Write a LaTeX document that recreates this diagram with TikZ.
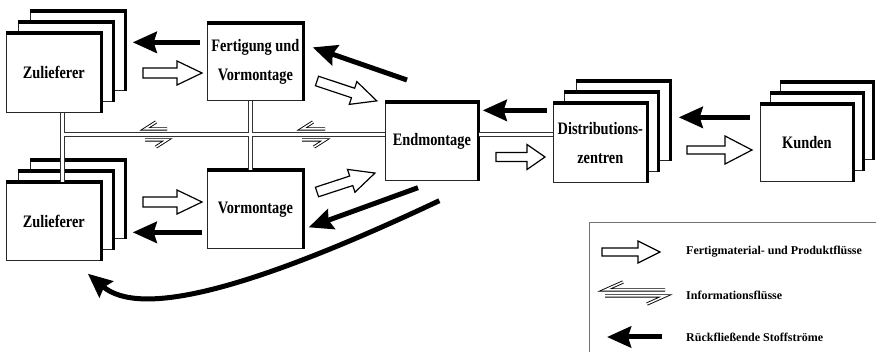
\documentclass[tikz,border=0pt]{standalone}
\usepackage{fontspec}
\usetikzlibrary{arrows.meta,calc}
\newfontfamily\lblfont{Liberation Serif}[FakeStretch=0.82]
\newfontfamily\legfont{Liberation Serif}
\newcommand\drawblk[5][]{%
  \node[box,anchor=north west,#1] (#2) at (#3,#4) {#5};
  \draw[heavy] (#2.north west) -- (#2.north east) -- (#2.south east);}
\tikzset{
  box/.style={draw=black!85, line width=0.7pt, fill=white, minimum width=95pt,
    minimum height=79pt, inner sep=0pt, align=center,
    font=\lblfont\bfseries\fontsize{17.5}{29}\selectfont},
  heavy/.style={line width=3.2pt, line join=miter, line cap=butt},
  back/.style={line width=5pt, line cap=butt, -{Stealth[length=24pt,width=21pt,inset=3pt]}},
  hollowline/.style={draw=black, line width=1.2pt, fill=white, line join=miter},
  infoline/.style={draw=black, line width=0.9pt, double=white, double distance=1.5pt, line join=miter},
  leg/.style={anchor=west, inner sep=0pt, font=\legfont\bfseries\fontsize{12}{14}\selectfont},
  legline/.style={draw=black!55, line width=0.6pt},
  pics/harrow/.style n args={4}{code={
    \path[hollowline] (0,-#3) -- (#1-#2,-#3) -- (#1-#2,-#4) -- (#1,0) -- (#1-#2,#4) -- (#1-#2,#3) -- (0,#3) -- cycle;}},
  pics/infosym/.style n args={4}{code={
    \draw[infoline] (#1,-#2) -- (0,-#2) -- (#3,-#2-#4);
    \draw[infoline] (0,#2) -- (#1,#2) -- (#1-#3,#2+#4);}},
}
\begin{document}
\begin{tikzpicture}[x=1pt,y=-1pt]
\useasboundingbox (0,0) rectangle (876,352);
\fill[white] (0,0) rectangle (876,352);

% upper suppliers
\drawblk{z1c}{30}{11}{}
\drawblk{z1b}{18}{22}{}
\drawblk{z1}{6}{33}{Zulieferer}
% Fertigung
\drawblk[minimum width=96pt,minimum height=77pt]{fv}{207}{23}{Fertigung und\\Vormontage}
% Endmontage
\drawblk[minimum width=93pt,minimum height=78pt]{em}{385}{102}{Endmontage}
% Distribution
\drawblk[minimum width=94pt]{d3}{576}{81}{}
\drawblk[minimum width=94pt]{d2}{564}{92}{}
\drawblk[minimum width=94pt]{d1}{553}{103}{Distributions-\\zentren}
% Kunden
\drawblk[minimum width=93pt,minimum height=77pt]{k3}{780}{82}{}
\drawblk[minimum width=93pt,minimum height=77pt]{k2}{770}{93}{}
\drawblk[minimum width=93pt,minimum height=77pt]{k1}{760}{104}{Kunden}
% lower suppliers
\drawblk[minimum height=78pt]{z2c}{30}{160}{}
\drawblk[minimum height=78pt]{z2b}{18}{171}{}
\drawblk[minimum height=78pt]{z2}{6}{182}{Zulieferer}
% Vormontage
\drawblk[minimum width=96pt,minimum height=78pt]{vm}{207}{170}{Vormontage}

% information roads
\coordinate (vx) at (62.5,0);
\coordinate (vx2) at (250.5,0);
\coordinate (vy) at (0,134.5);
\foreach \lw/\col in {5.2pt/black!80, 3.0pt/white}{
  \draw[line width=\lw, draw=\col] (z1.south -| vx) -- (z2.north -| vx);
  \draw[line width=\lw, draw=\col] (vx |- vy) -- (em.west |- vy);
  \draw[line width=\lw, draw=\col] (em.east |- vy) -- (d1.west |- vy);
  \draw[line width=\lw, draw=\col] (fv.south -| vx2) -- (vm.north -| vx2);
}
\pic at (145,134.5) {infosym={22}{5.5}{11}{7}};
\pic at (302,134.5) {infosym={23}{5.5}{11}{7}};

% material flows (hollow arrows)
\pic at (143,73) {harrow={59}{25}{5}{12}};
\pic[rotate=-18.4] at (317,81) {harrow={63}{25}{5}{12}};
\pic[rotate=18.1] at (317,192) {harrow={61}{25}{5}{12}};
\pic at (143,202) {harrow={59}{25}{5}{12}};
\pic at (496,157) {harrow={49}{18}{4.5}{12.5}};
\pic at (687,150) {harrow={65}{27}{4}{14}};

% return flows (black arrows)
\draw[back] ($(fv.west)+(-7,-19.5)$) -- ($(z1c.east)+(7,-8.5)$);
\draw[back] ($(em.north west)+(22,-22)$) -- ($(fv.east)+(9,-14.5)$);
\draw[back] ($(d1.west)+(-6,-32.5)$) -- ($(em.east)+(4,-31)$);
\draw[back] ($(k1.west)+(-10,-25.5)$) -- ($(d3.east)+(8,-3.5)$);
\draw[back] ($(em.south west)+(33,7)$) -- ($(vm.east)+(5,18)$);
\draw[back] ($(vm.west)+(-5,23)$) -- ($(z2c.east)+(7,33)$);
\draw[back] ($(em.south)+(7.5,20)$) .. controls (250,290) and (140,318) .. ($(z2.south)+(34,13)$);

% legend
\draw[legline] (589,352) -- (589,222) -- (876,222);
\pic at (602,252) {harrow={58}{22}{4}{11}};
\pic at (605,293) {infosym={60}{3}{18}{8}};
\coordinate (lt) at (662,337);
\coordinate (lh) at (607,337);
\draw[back] (lt) -- (lh);
\node[leg] (l1) at (686,252) {Fertigmaterial- und Produktflüsse};
\node[leg] (l2) at (686,295) {Informationsflüsse};
\node[leg] (l3) at (686,337) {Rückfließende Stoffströme};
\end{tikzpicture}
\end{document}
